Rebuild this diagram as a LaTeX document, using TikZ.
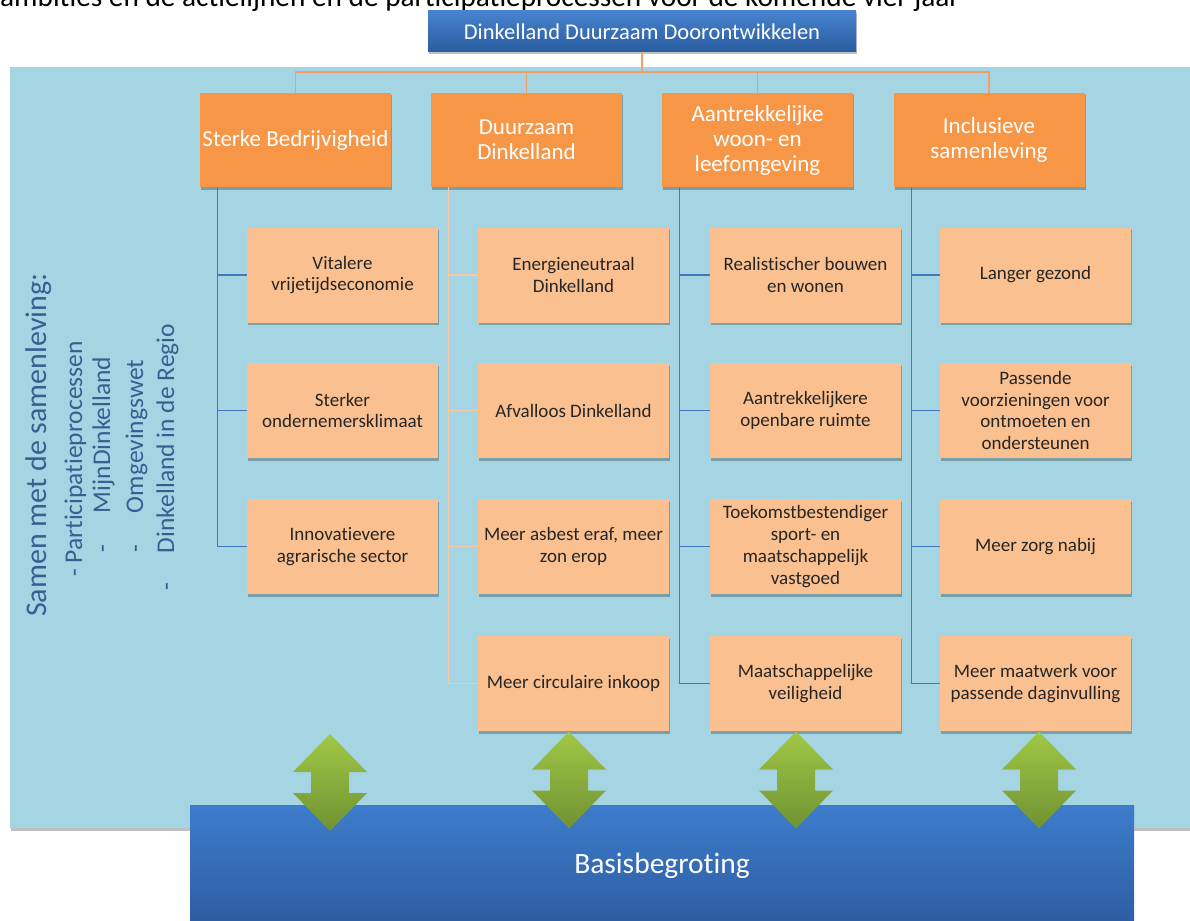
\documentclass[tikz,border=0pt]{standalone}
\usepackage{fontspec}
\setmainfont{Carlito}[Ligatures={NoCommon}]
\usetikzlibrary{shadows}

\definecolor{bgcyan}{RGB}{165,213,226}
\definecolor{themeorange}{RGB}{247,150,70}
\definecolor{subpeach}{RGB}{250,192,144}
\definecolor{linkblue}{RGB}{70,118,190}
\definecolor{linkorange}{RGB}{240,160,100}
\definecolor{linkpeach}{RGB}{248,200,165}
\definecolor{titletop}{RGB}{70,131,207}
\definecolor{titlebot}{RGB}{42,92,160}
\definecolor{basistop}{RGB}{61,124,204}
\definecolor{basisbot}{RGB}{45,92,160}
\definecolor{greentop}{RGB}{160,200,70}
\definecolor{greenbot}{RGB}{112,146,50}
\definecolor{sideblue}{RGB}{55,96,146}

\tikzset{
  softshadow/.style={drop shadow={shadow xshift=1pt, shadow yshift=-2.5pt, opacity=.25, fill=black}},
  titlebox/.style={top color=titletop, bottom color=titlebot, text=white,
    minimum width=428pt, minimum height=41pt, inner sep=0pt,
    font=\fontsize{22.5}{24}\selectfont, softshadow},
  themebox/.style={fill=themeorange, text=white, minimum width=191pt, minimum height=94pt,
    inner sep=1pt, align=center, font=\fontsize{23}{25}\selectfont, softshadow},
  subbox/.style={fill=subpeach, text=black!85, minimum width=191pt, minimum height=95pt,
    inner sep=1pt, align=center, font=\fontsize{19}{21.7}\selectfont, softshadow},
  basisbox/.style={top color=basistop, bottom color=basisbot, text=white,
    minimum width=944pt, minimum height=122pt, inner sep=0pt,
    font=\fontsize{29.5}{31}\selectfont},
  sidetext/.style={rotate=90, anchor=base west, inner sep=0pt, text=sideblue,
    font=\fontsize{25.5}{27}\selectfont},
  busline/.style={draw=linkorange, line width=1.3pt},
  bluelink/.style={draw=linkblue, line width=1.3pt},
  peachlink/.style={draw=linkpeach, line width=1.3pt},
  dblarrow/.pic={
    \path[top color=greentop, bottom color=greenbot]
      (0,-48.5) -- (37,-10.5) -- (19,-10.5) -- (19,10.5) -- (37,10.5) -- (0,48.5)
      -- (-37,10.5) -- (-19,10.5) -- (-19,-10.5) -- (-37,-10.5) -- cycle;
  }
}

\begin{document}
\begin{tikzpicture}[x=1pt, y=-1pt]
  \useasboundingbox (0,0) rectangle (1190,920);
  \clip (0,0) rectangle (1190,920);
  \fill[white] (0,0) rectangle (1190,920);

  % text cut off at the top of the page
  \node[anchor=base west, inner sep=0pt, font=\fontsize{29.3}{30}\selectfont] (intro) at (0,7)
    {ambities en de actielijnen en de participatieprocessen voor de komende vier jaar};

  % background panel
  \path[fill=bgcyan, softshadow] (10,67) rectangle (1210,828);

  % main title
  \node[titlebox] (top) at (642,31.5) {Dinkelland Duurzaam Doorontwikkelen};

  % themes
  \node[themebox] (t1) at (295.5,140) {Sterke Bedrijvigheid};
  \node[themebox] (t2) at (526.5,140) {Duurzaam\\Dinkelland};
  \node[themebox] (t3) at (757.5,140) {Aantrekkelijke\\woon- en\\leefomgeving};
  \node[themebox] (t4) at (989,140) {Inclusieve\\samenleving};

  \coordinate (bus) at (642,72);
  \draw[busline] (top.south) -- (bus);
  \draw[busline] (t1.north) -- (t1.north |- bus) -- (t4.north |- bus) -- (t4.north);
  \draw[busline] (t2.north) -- (t2.north |- bus);
  \draw[busline] (t3.north) -- (t3.north |- bus);

  % Sterke Bedrijvigheid
  \node[subbox] (s11) at (342.5,275) {Vitalere\\vrijetijdseconomie};
  \node[subbox] (s12) at (342.5,410.5) {Sterker\\ondernemersklimaat};
  \node[subbox] (s13) at (342.5,546.5) {Innovatievere\\agrarische sector};

  % Duurzaam Dinkelland
  \node[subbox] (s21) at (573.5,275) {Energieneutraal\\Dinkelland};
  \node[subbox] (s22) at (573.5,410.5) {Afvalloos Dinkelland};
  \node[subbox] (s23) at (573.5,546.5) {Meer asbest eraf, meer\\zon erop};
  \node[subbox] (s24) at (573.5,683.5) {Meer circulaire inkoop};

  % Aantrekkelijke woon- en leefomgeving
  \node[subbox] (s31) at (805.5,275) {Realistischer bouwen\\en wonen};
  \node[subbox] (s32) at (805.5,410.5) {Aantrekkelijkere\\openbare ruimte};
  \node[subbox] (s33) at (805.5,546.5) {Toekomstbestendiger\\sport- en\\maatschappelijk\\vastgoed};
  \node[subbox] (s34) at (805.5,683.5) {Maatschappelijke\\veiligheid};

  % Inclusieve samenleving
  \node[subbox] (s41) at (1035.5,275) {Langer gezond};
  \node[subbox] (s42) at (1035.5,410.5) {Passende\\voorzieningen voor\\ontmoeten en\\ondersteunen};
  \node[subbox] (s43) at (1035.5,546.5) {Meer zorg nabij};
  \node[subbox] (s44) at (1035.5,683.5) {Meer maatwerk voor\\passende daginvulling};

  % spines
  \coordinate (c1) at ([xshift=18pt]t1.south west);
  \coordinate (c2) at ([xshift=18pt]t2.south west);
  \coordinate (c3) at ([xshift=18pt]t3.south west);
  \coordinate (c4) at ([xshift=18pt]t4.south west);
  \draw[bluelink] (c1) |- (s13.west);
  \draw[bluelink] (c1 |- s11.west) -- (s11.west);
  \draw[bluelink] (c1 |- s12.west) -- (s12.west);
  \draw[peachlink] (c2) |- (s24.west);
  \draw[peachlink] (c2 |- s21.west) -- (s21.west);
  \draw[peachlink] (c2 |- s22.west) -- (s22.west);
  \draw[peachlink] (c2 |- s23.west) -- (s23.west);
  \draw[bluelink] (c3) |- (s34.west);
  \draw[bluelink] (c3 |- s31.west) -- (s31.west);
  \draw[bluelink] (c3 |- s32.west) -- (s32.west);
  \draw[bluelink] (c3 |- s33.west) -- (s33.west);
  \draw[bluelink] (c4) |- (s44.west);
  \draw[bluelink] (c4 |- s41.west) -- (s41.west);
  \draw[bluelink] (c4 |- s42.west) -- (s42.west);
  \draw[bluelink] (c4 |- s43.west) -- (s43.west);

  % side text
  \node[sidetext, font=\fontsize{30}{31}\selectfont] (samen) at (46,617) {Samen met de samenleving:};
  \node[sidetext] (part) at (82,577) {- Participatieprocessen};
  \node[sidetext] (mijn) at (110,553) {-\hspace{32pt}MijnDinkelland};
  \node[sidetext] (omg) at (143,553) {-\hspace{32pt}Omgevingswet};
  \node[sidetext] (regio) at (174,591) {-\hspace{30pt}Dinkelland in de Regio};

  % budget
  \node[basisbox] (basis) at (662,866) {Basisbegroting};

  % arrows between the themes and the budget
  \pic at (330,782.5) {dblarrow};
  \pic at (569,780) {dblarrow};
  \pic at (796,780) {dblarrow};
  \pic at (1039,780) {dblarrow};
\end{tikzpicture}
\end{document}
